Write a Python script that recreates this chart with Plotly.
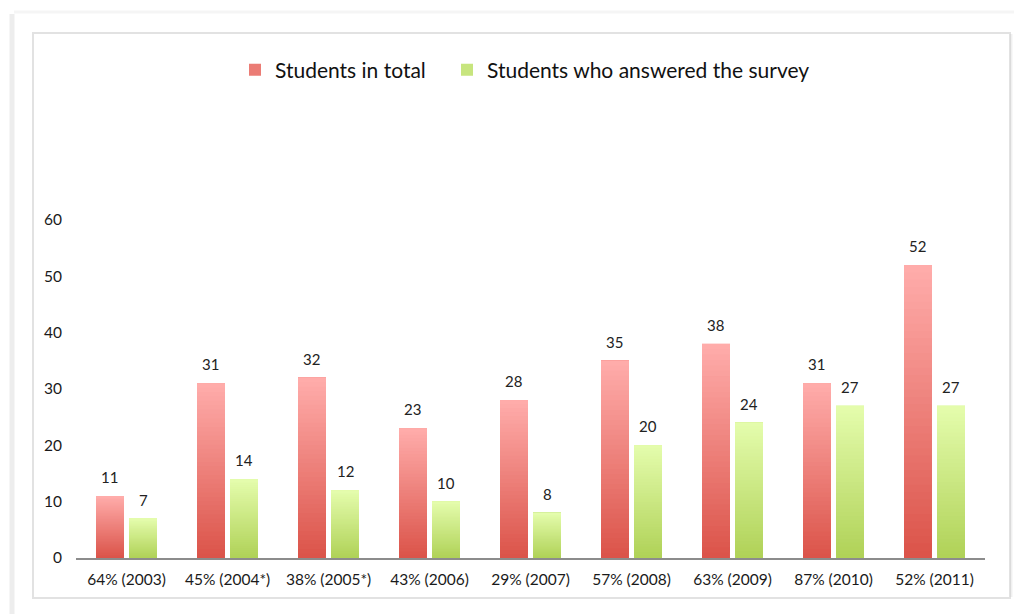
import plotly.graph_objects as go

categories = ["64% (2003)", "45% (2004*)", "38% (2005*)", "43% (2006)", "29% (2007)",
              "57% (2008)", "63% (2009)", "87% (2010)", "52% (2011)"]
students_total = [11, 31, 32, 23, 28, 35, 38, 31, 52]
students_answered = [7, 14, 12, 10, 8, 20, 24, 27, 27]
series_names = ["Students in total", "Students who answered the survey"]
y_ticks = [0, 10, 20, 30, 40, 50, 60]

# page offset (body margin) and layout geometry in screen pixels
OFF = 8
W, H = 1022 - OFF, 614 - OFF
L, R, T, B = 76, 985, 110, 558
YMAX = 60 + (220 - T) / ((B - 220) / 60)


def px(x):
    return (x - L) / (R - L)


def py(y):
    return (B - y) / (B - T)


def lerp(c1, c2, t):
    return "rgb(%d,%d,%d)" % tuple(round(a + (b - a) * t) for a, b in zip(c1, c2))


red_bottom, red_top = (219, 84, 74), (255, 172, 170)
green_bottom, green_top = (176, 210, 88), (228, 252, 172)

BAR_W = 0.277
series = [
    (series_names[0], students_total, red_bottom, red_top, -0.302, "legend", 235),
    (series_names[1], students_answered, green_bottom, green_top, 0.025, "legend2", 447),
]

N = 40
fig = go.Figure()
for name, vals, cb, ct, off, lg, lx in series:
    for k in range(N):
        # nested bars: each layer spans from its fraction of the bar up to the top
        fig.add_trace(go.Bar(
            x=categories,
            y=[v * (N - k) / N for v in vals],
            base=[v * k / N for v in vals],
            offset=off, width=BAR_W,
            marker=dict(color=lerp(cb, ct, k / (N - 1)), line=dict(width=0)),
            name=name, legendgroup=name, showlegend=False, hoverinfo="skip",
        ))
    fig.add_trace(go.Bar(
        x=[categories[0]], y=[None], name=name, legendgroup=name, legend=lg,
        marker=dict(color=lerp(cb, ct, 0.45), line=dict(width=0)),
        showlegend=True,
    ))

annotations = []
for name, vals, cb, ct, off, lg, lx in series:
    for i, v in enumerate(vals):
        annotations.append(dict(
            x=i + off + BAR_W / 2, y=v, xref="x", yref="y",
            text=str(v), showarrow=False, yanchor="middle", yshift=19,
            font=dict(size=15, color="#222222", family="Lato, Carlito, sans-serif"),
        ))

shapes = [
    dict(type="line", xref="paper", yref="paper", x0=px(14), x1=px(1022), y0=py(12), y1=py(12),
         line=dict(color="rgba(0,0,0,0.04)", width=3), layer="below"),
    dict(type="line", xref="paper", yref="paper", x0=px(12), x1=px(12), y0=py(14), y1=py(614),
         line=dict(color="rgba(0,0,0,0.07)", width=5), layer="below"),
    dict(type="rect", xref="paper", yref="paper", x0=px(33), x1=px(1010), y0=py(33), y1=py(598),
         line=dict(color="#E2E2E2", width=2), layer="below"),
    dict(type="line", xref="paper", yref="paper", x0=px(1011.5), x1=px(1011.5), y0=py(34), y1=py(597),
         line=dict(color="rgba(0,0,0,0.06)", width=2), layer="below"),
]

legend_common = dict(orientation="h", yanchor="middle", y=py(70), xanchor="left",
                     font=dict(size=21, color="#111111"), bgcolor="rgba(0,0,0,0)")

fig.update_layout(
    width=W, height=H,
    margin=dict(l=L - OFF, r=1022 - R, t=T - OFF, b=614 - B, pad=0),
    paper_bgcolor="white", plot_bgcolor="white",
    barmode="overlay",
    font=dict(family="Lato, Carlito, sans-serif", color="#222222"),
    legend=dict(x=px(series[0][6]), **legend_common),
    legend2=dict(x=px(series[1][6]), **legend_common),
    xaxis=dict(type="category", categoryorder="array", categoryarray=categories,
               range=[-0.5, len(categories) - 0.5],
               showline=True, linecolor="#8C8C8C", linewidth=1.5,
               showgrid=False, zeroline=False, ticks="",
               tickfont=dict(size=15.5, color="#1a1a1a"), ticklabelstandoff=7),
    yaxis=dict(range=[0, YMAX], tickvals=y_ticks, showgrid=False, zeroline=False,
               showline=False, ticks="", tickfont=dict(size=15.5, color="#1a1a1a"),
               ticklabelstandoff=13),
    annotations=annotations,
    shapes=shapes,
    showlegend=True,
)

fig.write_html("out.html")
